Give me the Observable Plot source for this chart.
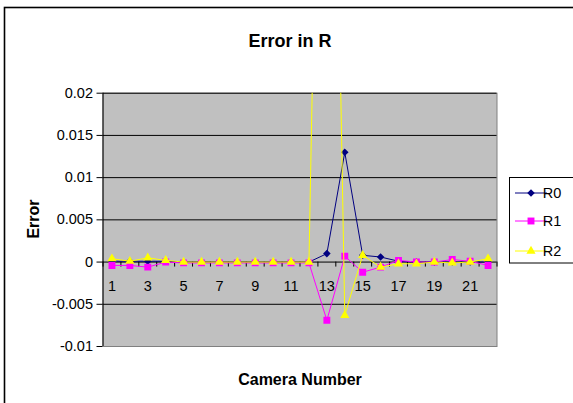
<!DOCTYPE html>
<html><head><meta charset="utf-8">
<script src="https://cdn.jsdelivr.net/npm/d3@7"></script>
<script src="https://cdn.jsdelivr.net/npm/@observablehq/plot@0.6"></script>
<style>
body{margin:0;background:#fff;}
#chart{position:relative;width:573px;height:403px;overflow:hidden;background:#fff;}
</style>
</head><body><div id="chart"></div>
<script>
// ---- data ----
const categories = [1,2,3,4,5,6,7,8,9,10,11,12,13,14,15,16,17,18,19,20,21,22];
const seriesNames = ["R0","R1","R2"];
const r0 = [0.0001,0.0001,0.0001,0.0001,0,0,0,0,0,0,0,0,0.001,0.013,0.0008,0.0006,0.0001,0,0,0,0,0];
const r1 = [-0.0004,-0.0004,-0.0006,0,-0.0001,-0.0001,-0.0001,-0.0001,-0.0001,-0.0001,-0.0001,-0.0001,-0.0069,0.0007,-0.0012,-0.0006,0.0002,0,0,0.0003,0.0001,-0.0004];
const r2 = [0.0004,0.0001,0.0005,0.0002,0,0,0,0,0,0,0,0,0.112,-0.0063,0.0008,-0.0006,-0.0002,-0.0002,0,-0.0001,0,0.0004];
const yTicks = [-0.01,-0.005,0,0.005,0.01,0.015,0.02];
const yTickLabels = ["-0.01","-0.005","0","0.005","0.01","0.015","0.02"];
const xTickLabels = [1,3,5,7,9,11,13,15,17,19,21];
const titleText = "Error in R";
const xTitle = "Camera Number";
const yTitle = "Error";

const colors = {R0:"#000080", R1:"#ff00ff", R2:"#ffff00"};
const symbols = {R0:"diamond2", R1:"square", R2:"triangle"};
const d3symbols = {R0:d3.symbolDiamond2, R1:d3.symbolSquare, R2:d3.symbolTriangle};
const radii = {R0:3.4, R1:3.9, R2:3.4};

const rows = [];
[r0,r1,r2].forEach((vals,i)=>vals.forEach((v,j)=>rows.push({series:seriesNames[i], cam:categories[j], v})));
const boundaries = [categories[0]-0.5, ...categories.map(c=>c+0.5)];

const W=573, H=403, mL=102.5, mR=573-496.5, mT=92.7, mB=403-346;
const yDomain=[yTicks[0], yTicks[yTicks.length-1]];
const zeroDy = -(H-mT-mB)*(0-yDomain[0])/(yDomain[1]-yDomain[0]);
const font = "'Liberation Sans', Arial, sans-serif";

const marks = [
  Plot.frame({fill:"#c0c0c0", stroke:"#808080"}),
  Plot.ruleY(yTicks.filter(t=>t!==yDomain[0]), {stroke:"#000", strokeWidth:1}),
  Plot.ruleX([boundaries[0]], {stroke:"#000"}),
  Plot.axisY(yTicks, {anchor:"left", tickSize:6, tickPadding:4, label:null,
    tickFormat:d=>yTickLabels[yTicks.indexOf(d)], fontSize:14.5}),
  Plot.axisX(boundaries, {anchor:"bottom", tickSize:5, tickFormat:()=>"", dy:zeroDy, label:null}),
  Plot.axisX(xTickLabels, {anchor:"bottom", tickSize:0, tickPadding:19, dy:zeroDy, label:null, fontSize:14.5})
];
seriesNames.forEach(s=>{
  const data = rows.filter(d=>d.series===s);
  marks.push(Plot.line(data, {x:"cam", y:"v", stroke:colors[s], strokeWidth:1, clip:"frame"}));
  marks.push(Plot.dot(data, {x:"cam", y:"v", symbol:()=>symbols[s], r:radii[s], fill:colors[s], stroke:"none", clip:"frame"}));
});

const plot = Plot.plot({
  width:W, height:H, marginLeft:mL, marginRight:mR, marginTop:mT, marginBottom:mB,
  style:{fontFamily:font, fontSize:"14.5px", background:"transparent", color:"#000", overflow:"visible"},
  x:{type:"linear", domain:[boundaries[0], boundaries[boundaries.length-1]]},
  y:{domain:yDomain},
  symbol:{type:"identity"},
  marks
});
document.getElementById("chart").appendChild(plot);

const svg = d3.select(plot);
// outer chart border
svg.insert("rect", ":first-child").attr("x",4.5).attr("y",7.5).attr("width",800).attr("height",800)
  .attr("fill","#fff").attr("stroke","#000").attr("stroke-width",1.6);

svg.append("text").attr("x",290).attr("y",41).attr("text-anchor","middle").attr("dominant-baseline","central")
  .attr("font-family",font).attr("font-weight","bold").attr("font-size",18).text(titleText);
svg.append("text").attr("x",300).attr("y",379).attr("text-anchor","middle").attr("dominant-baseline","central")
  .attr("font-family",font).attr("font-weight","bold").attr("font-size",16).text(xTitle);
svg.append("text").attr("transform","translate(33,219) rotate(-90)").attr("text-anchor","middle").attr("dominant-baseline","central")
  .attr("font-family",font).attr("font-weight","bold").attr("font-size",16).text(yTitle);

// legend
const lg = svg.append("g");
lg.append("rect").attr("x",509.5).attr("y",177.5).attr("width",120).attr("height",85.5)
  .attr("fill","#fff").attr("stroke","#000").attr("stroke-width",1);
const legY = [193,221,251];
seriesNames.forEach((s,i)=>{
  const y = legY[i];
  lg.append("line").attr("x1",515).attr("x2",547).attr("y1",y).attr("y2",y).attr("stroke",colors[s]).attr("stroke-width",1);
  lg.append("path").attr("transform",`translate(531,${y})`)
    .attr("d", d3.symbol(d3symbols[s], Math.PI*radii[s]*radii[s])()).attr("fill",colors[s]);
  lg.append("text").attr("x",552).attr("y",y).attr("dominant-baseline","central")
    .attr("font-family",font).attr("font-size",14.5).text(s);
});
</script>
</body></html>
